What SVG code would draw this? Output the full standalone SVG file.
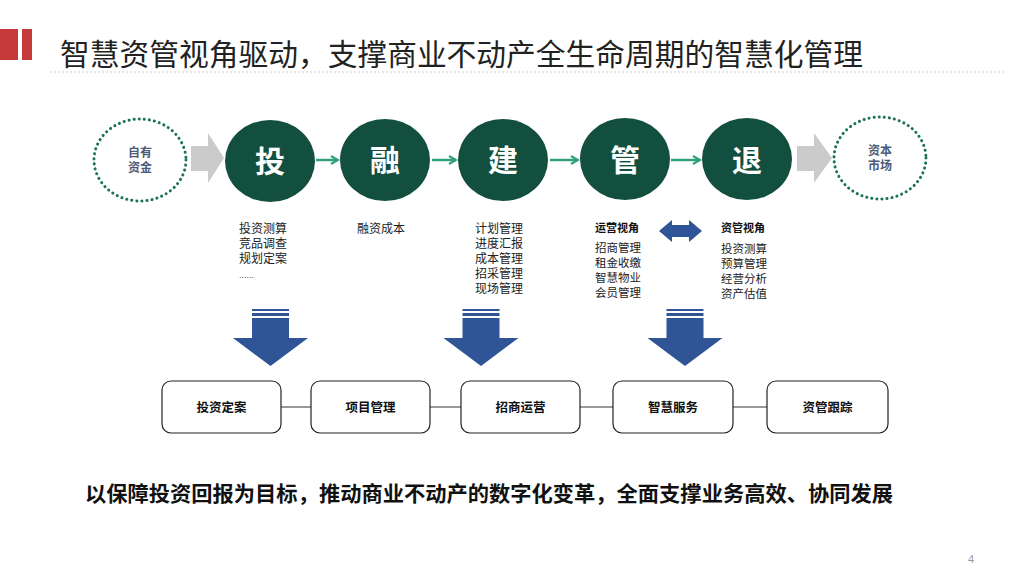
<svg xmlns="http://www.w3.org/2000/svg" width="1024" height="576" viewBox="0 0 1024 576">
<defs>
<style>
.t{font-family:"Noto Sans CJK SC","Liberation Sans",sans-serif}
.big{fill:#fff;font-size:30px;font-weight:bold;text-anchor:middle}
.dc{fill:none;stroke:#1b7356;stroke-width:3;stroke-dasharray:0.1 5;stroke-linecap:round}
.dt{fill:#4d5a78;font-size:12px;font-weight:bold;text-anchor:middle}
.it{fill:#222;font-size:12px}
.it2{fill:#222;font-size:11.5px}
.bx{fill:#fff;stroke:#222;stroke-width:1.2}
.bt{fill:#111;font-size:12.5px;font-weight:bold;text-anchor:middle}
.gn{fill:#124f3e}
.ga{stroke:#2ea07a;stroke-width:2.5;fill:none}
.gray{fill:#cbcbcb}
.blue{fill:#2f5597}
</style>
<marker id="ah" viewBox="0 0 10 10" refX="8" refY="5" markerWidth="4" markerHeight="4" orient="auto">
<path d="M1,1 L8,5 L1,9" fill="none" stroke="#2ea07a" stroke-width="2.2"/>
</marker>
<g id="downArrow">
<rect x="-18.5" y="0" width="37" height="2" class="blue"/>
<rect x="-18.5" y="4" width="37" height="3" class="blue"/>
<path d="M-18.5,9 H18.5 V29 H37.5 L0,57 L-37.5,29 H-18.5 Z" class="blue"/>
</g>
</defs>
<rect width="1024" height="576" fill="#fff"/>

<g id="header">
<rect x="0" y="29" width="18" height="31" fill="#c63a3c"/>
<rect x="22" y="29" width="10" height="31" fill="#c63a3c"/>
<text class="t" x="60" y="65" font-size="29.5" fill="#222" textLength="803" lengthAdjust="spacingAndGlyphs">智慧资管视角驱动，支撑商业不动产全生命周期的智慧化管理</text>
<line x1="50" y1="72" x2="1005" y2="72" stroke="#cfcfcf" stroke-width="1" stroke-dasharray="2 2"/>
</g>

<g id="connectors">
<path d="M191,146 H208 V133 L224,158 L208,183 V171 H191 Z" class="gray"/>
<path d="M797,146 H814 V133 L832,158 L814,183 V171 H797 Z" class="gray"/>
<line x1="316" y1="160" x2="338" y2="160" class="ga" marker-end="url(#ah)"/>
<line x1="432" y1="160" x2="456" y2="160" class="ga" marker-end="url(#ah)"/>
<line x1="550" y1="160" x2="578" y2="160" class="ga" marker-end="url(#ah)"/>
<line x1="671" y1="160" x2="700" y2="160" class="ga" marker-end="url(#ah)"/>
<path d="M659,231 L672,220 V225 H689 V220 L702,231 L689,242 V237 H672 V242 Z" class="blue"/>
<use href="#downArrow" x="270.5" y="309"/>
<use href="#downArrow" x="481" y="309"/>
<use href="#downArrow" x="685" y="309"/>
<line x1="281" y1="407" x2="311" y2="407" stroke="#333" stroke-width="1"/>
<line x1="430" y1="407" x2="461" y2="407" stroke="#333" stroke-width="1"/>
<line x1="580" y1="407" x2="613" y2="407" stroke="#333" stroke-width="1"/>
<line x1="733" y1="407" x2="767" y2="407" stroke="#333" stroke-width="1"/>
</g>

<g id="node-zyzj">
<ellipse cx="140" cy="160" rx="46" ry="41" class="dc"/>
<text class="t dt" x="140" y="157">自有</text>
<text class="t dt" x="140" y="172">资金</text>
</g>
<g id="node-tou">
<ellipse cx="270" cy="161" rx="45" ry="41" class="gn"/>
<text class="t big" x="270" y="172">投</text>
</g>
<g id="node-rong">
<ellipse cx="385" cy="160" rx="45" ry="41" class="gn"/>
<text class="t big" x="385" y="171">融</text>
</g>
<g id="node-jian">
<ellipse cx="503" cy="160" rx="45" ry="41" class="gn"/>
<text class="t big" x="503" y="171">建</text>
</g>
<g id="node-guan">
<ellipse cx="625" cy="159" rx="45" ry="41" class="gn"/>
<text class="t big" x="625" y="171">管</text>
</g>
<g id="node-tui">
<ellipse cx="747" cy="159" rx="45" ry="41" class="gn"/>
<text class="t big" x="747" y="171">退</text>
</g>
<g id="node-zbsc">
<ellipse cx="880" cy="158" rx="46" ry="41" class="dc"/>
<text class="t dt" x="880" y="155">资本</text>
<text class="t dt" x="880" y="170">市场</text>
</g>

<g id="list-tou" class="t it">
<text x="239" y="233">投资测算</text>
<text x="239" y="248">竞品调查</text>
<text x="239" y="263">规划定案</text>
<text x="239" y="278" font-family="Liberation Sans,sans-serif" font-size="9" fill="#444">......</text>
</g>
<g id="list-rong" class="t it">
<text x="357" y="233">融资成本</text>
</g>
<g id="list-jian" class="t it">
<text x="475" y="233">计划管理</text>
<text x="475" y="248">进度汇报</text>
<text x="475" y="263">成本管理</text>
<text x="475" y="278">招采管理</text>
<text x="475" y="293">现场管理</text>
</g>
<g id="list-guan" class="t it2">
<text x="595" y="232" font-size="11" font-weight="bold" fill="#111">运营视角</text>
<text x="595" y="252">招商管理</text>
<text x="595" y="267">租金收缴</text>
<text x="595" y="282">智慧物业</text>
<text x="595" y="297">会员管理</text>
</g>
<g id="list-tui" class="t it2">
<text x="721" y="232" font-size="11" font-weight="bold" fill="#111">资管视角</text>
<text x="721" y="253">投资测算</text>
<text x="721" y="268">预算管理</text>
<text x="721" y="283">经营分析</text>
<text x="721" y="298">资产估值</text>
</g>

<g id="box-tzda">
<rect x="162" y="381" width="119" height="52" rx="9" class="bx"/>
<text class="t bt" x="221.5" y="412">投资定案</text>
</g>
<g id="box-xmgl">
<rect x="311" y="381" width="119" height="52" rx="9" class="bx"/>
<text class="t bt" x="370.5" y="412">项目管理</text>
</g>
<g id="box-zsyy">
<rect x="461" y="381" width="119" height="52" rx="9" class="bx"/>
<text class="t bt" x="520.5" y="412">招商运营</text>
</g>
<g id="box-zhfw">
<rect x="613" y="381" width="120" height="52" rx="9" class="bx"/>
<text class="t bt" x="673" y="412">智慧服务</text>
</g>
<g id="box-zggz">
<rect x="767" y="381" width="121" height="52" rx="9" class="bx"/>
<text class="t bt" x="827.5" y="412">资管跟踪</text>
</g>

<g id="footer">
<text class="t" x="85" y="501" font-size="21" font-weight="bold" fill="#111" textLength="808" lengthAdjust="spacingAndGlyphs">以保障投资回报为目标，推动商业不动产的数字化变革，全面支撑业务高效、协同发展</text>
<text x="971" y="563" font-family="Liberation Sans,sans-serif" font-size="11" fill="#999" text-anchor="middle">4</text>
</g>
</svg>
